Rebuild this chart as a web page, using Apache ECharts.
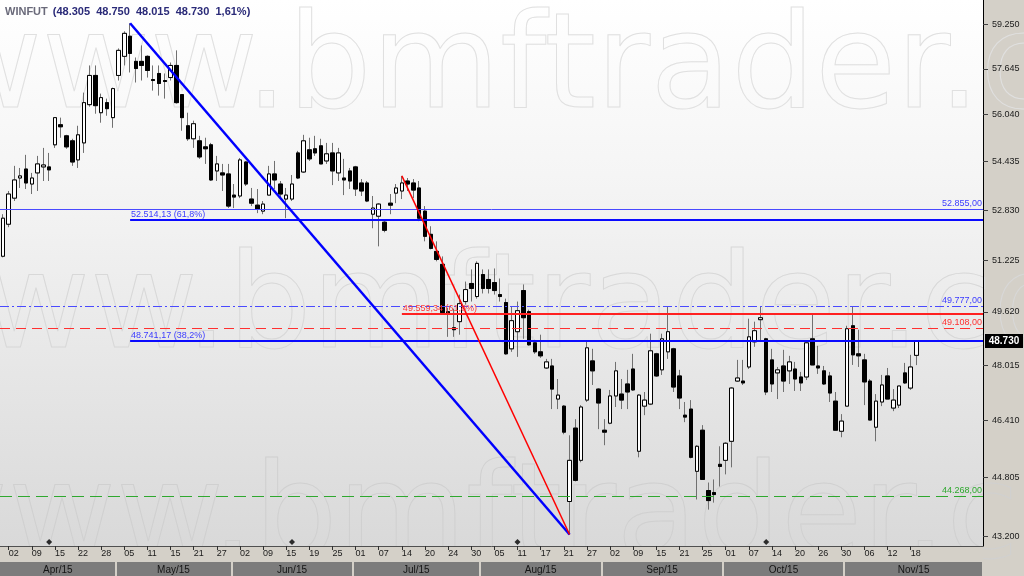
<!DOCTYPE html>
<html><head><meta charset="utf-8">
<script src="https://cdn.jsdelivr.net/npm/echarts@6/dist/echarts.min.js"></script>
<style>html,body{margin:0;padding:0;background:#d4d0c8;}#c{width:1024px;height:576px;}</style>
</head><body><div id="c"></div>
<script>
// ---------------- DATA ----------------
const SYMBOL = 'WINFUT';
const CHANGE_PCT = '1,61%';
const DATES = [
'2015-04-01','2015-04-02','2015-04-06','2015-04-07','2015-04-08','2015-04-09','2015-04-10','2015-04-13','2015-04-14','2015-04-15','2015-04-16','2015-04-17','2015-04-20','2015-04-22','2015-04-23','2015-04-24','2015-04-27','2015-04-28','2015-04-29','2015-04-30',
'2015-05-04','2015-05-05','2015-05-06','2015-05-07','2015-05-08','2015-05-11','2015-05-12','2015-05-13','2015-05-14','2015-05-15','2015-05-18','2015-05-19','2015-05-20','2015-05-21','2015-05-22','2015-05-25','2015-05-26','2015-05-27','2015-05-28','2015-05-29',
'2015-06-01','2015-06-02','2015-06-03','2015-06-05','2015-06-08','2015-06-09','2015-06-10','2015-06-11','2015-06-12','2015-06-15','2015-06-16','2015-06-17','2015-06-18','2015-06-19','2015-06-22','2015-06-23','2015-06-24','2015-06-25','2015-06-26','2015-06-29','2015-06-30',
'2015-07-01','2015-07-02','2015-07-03','2015-07-06','2015-07-07','2015-07-08','2015-07-10','2015-07-13','2015-07-14','2015-07-15','2015-07-16','2015-07-17','2015-07-20','2015-07-21','2015-07-22','2015-07-23','2015-07-24','2015-07-27','2015-07-28','2015-07-29','2015-07-30','2015-07-31',
'2015-08-03','2015-08-04','2015-08-05','2015-08-06','2015-08-07','2015-08-10','2015-08-11','2015-08-12','2015-08-13','2015-08-14','2015-08-17','2015-08-18','2015-08-19','2015-08-20','2015-08-21','2015-08-24','2015-08-25','2015-08-26','2015-08-27','2015-08-28','2015-08-31',
'2015-09-01','2015-09-02','2015-09-03','2015-09-04','2015-09-08','2015-09-09','2015-09-10','2015-09-11','2015-09-14','2015-09-15','2015-09-16','2015-09-17','2015-09-18','2015-09-21','2015-09-22','2015-09-23','2015-09-24','2015-09-25','2015-09-28','2015-09-29','2015-09-30',
'2015-10-01','2015-10-02','2015-10-05','2015-10-06','2015-10-07','2015-10-08','2015-10-09','2015-10-13','2015-10-14','2015-10-15','2015-10-16','2015-10-19','2015-10-20','2015-10-21','2015-10-22','2015-10-23','2015-10-26','2015-10-27','2015-10-28','2015-10-29','2015-10-30',
'2015-11-03','2015-11-04','2015-11-05','2015-11-06','2015-11-09','2015-11-10','2015-11-11','2015-11-12','2015-11-13','2015-11-16','2015-11-17','2015-11-18','2015-11-19'];

const OPEN = [51350,52375,53225,53890,54190,53690,54060,54260,54260,55005,55690,55310,55140,54495,55070,56385,57410,56105,56455,55935,
57410,58090,58815,57910,57910,58090,57265,57480,57230,57335,57765,56735,55655,55210,55140,54935,55005,54125,54060,54025,
53325,53295,54425,53195,52995,52800,53325,54025,53690,53195,53195,54730,54090,54835,54870,54970,54460,54730,54060,53890,54125,
54260,53725,53725,52700,52635,52440,53060,53390,53460,53790,53725,53560,52800,52050,51505,51095,49625,49135,49320,49935,50495,50090,
50775,50620,50525,50150,49905,48500,49015,50275,49625,48680,48410,47930,47990,47020,46815,44140,46185,45275,46990,48140,47310,
46125,46325,47110,47165,47460,47900,45530,46815,46875,48350,47875,48410,48500,47695,46555,46730,44970,46125,44440,44385,45165,
45275,45810,47545,47545,47960,48710,49380,48800,48170,47785,47990,47845,47900,47665,47665,48800,47990,47845,47695,46960,46095,
46815,49195,48350,48170,47545,46210,46935,47695,46760,46845,47785,47340,48305];
const CLOSE = [52570,53360,53825,53960,53725,53890,54360,54325,54160,55935,55620,54935,54425,55345,56455,57410,56350,56630,56245,56945,
58305,58920,58195,57655,57765,57585,57230,57125,57195,57765,56455,55935,55210,55725,54595,54870,53825,54360,53990,52965,
53260,54495,53690,53060,52865,53030,54025,53825,53360,53325,53690,53890,55140,54530,54730,54360,54700,54125,54730,53825,53790,
53525,53460,53130,52900,53030,52180,52995,53560,53725,53690,53490,52570,51985,51600,51250,49595,49565,49075,49870,50305,50340,51125,
50340,50340,50275,50090,48350,49350,49655,49440,48620,48410,48290,48110,47310,47135,46070,45275,44720,46790,48530,47845,46905,
46070,47110,47845,46990,47225,47285,47135,46990,48440,47695,48800,49015,47370,47050,46500,45360,45670,44745,44165,44330,45105,
45755,47340,47635,47490,48860,49045,49440,47225,47460,47875,47545,48110,47605,47490,48680,48020,47930,47460,47195,46125,46385,
49105,48320,48290,47520,46415,46960,47430,47020,46990,47400,47490,47960,48730];
const LOW = [51315,52280,53130,53560,53525,53360,53460,53790,53790,54900,55245,54870,54295,54225,54730,56315,56070,55760,56000,55585,
57230,57765,57515,57160,57230,57335,56875,56700,56595,57230,56420,55485,55140,54900,54530,54360,53790,53790,53460,52900,
52900,53225,53625,52965,52735,52700,53325,53525,53225,52570,53130,53855,54060,54460,54630,54360,54360,53655,53790,53325,53525,
53295,53295,53095,52245,51665,52115,52700,53060,53195,53460,53225,52475,51825,51570,51190,49565,48860,48860,48925,49840,49935,50025,
50185,50185,50150,49935,48320,48410,48260,48800,48590,48350,48230,47900,46730,46730,46010,43250,44690,45220,46935,47430,46155,
45700,46295,46790,46730,46730,47255,45360,46555,46845,47665,47725,48200,47225,46730,46355,45330,44195,44745,43920,44110,44550,
44885,45080,47520,47430,47900,48560,48710,47135,47225,47020,47225,47460,47255,47255,47575,48020,47755,47430,46935,46125,45925,
46815,48020,47960,46845,46415,45810,46815,47020,46670,46760,47460,47285,48015];
const HIGH = [52700,53460,54295,54225,54665,54060,54630,54900,54730,55935,55935,55345,55210,55655,56805,57765,57765,56770,56595,56980,
58375,58995,59290,58050,58485,58125,57765,57765,57480,57870,58305,56735,56105,55830,55310,55245,55070,54630,54360,54360,
53690,54560,54460,53560,53525,53130,54295,54460,53790,53560,53990,54800,55345,55245,55310,55210,55070,55070,54900,54530,54225,
54295,53855,53790,53295,53060,52475,53360,53690,53960,53890,53855,53790,52965,52310,51825,51345,49745,49715,50150,50555,50935,51190,
50935,50935,50965,50650,50025,49780,49935,50465,49685,48770,48925,48200,48200,47605,46845,45980,46440,46845,48710,48500,47340,
46440,47285,48110,47605,47875,48350,47165,47225,48955,48380,48955,49780,48530,47875,46935,46990,45700,46270,44660,44745,45670,
45785,47370,48170,48170,49410,49320,49780,48830,48500,47960,48470,48290,48110,47815,48710,49565,48590,47990,47815,47225,46585,
49195,49780,49075,48350,47605,47165,47725,47930,47310,47400,48080,48320,48750];

// price axis ticks (right side)
const Y_TICKS = [43200, 44805, 46410, 48015, 49620, 51225, 52830, 54435, 56040, 57645, 59250];
const Y_TICK_LABELS = ['43.200','44.805','46.410','48.015','49.620','51.225','52.830','54.435','56.040','57.645','59.250'];
const MONTH_NAMES = ['Jan','Feb','Mar','Apr','May','Jun','Jul','Aug','Sep','Oct','Nov','Dec'];

// drawn studies
const H_LEVELS = [52855, 49777, 49108, 44268];
const H_LEVEL_TEXT = ['52.855,00', '49.777,00', '49.108,00', '44.268,00'];
const FIB_LEVELS = [52514.13, 48741.17];
const FIB_TEXT = ['52.514,13 (61,8%)', '48.741,17 (38,2%)'];
const RED_FIB_LEVEL = 49559.34;
const RED_FIB_TEXT = '49.559,34 (61,8%)';
const TREND_FROM = 22, TREND_TO = 98, RED_FROM = 69;
const EXPIRY_IDX = [8, 50, 89, 132];
const EXPIRY_MARK_LEVEL = 43050;
const WATERMARK = 'www.bmftrader.com';

// ---------------- CHART ----------------
const N_SLOTS = 170;
const PLOT_W = 983, PLOT_H = 546;
const FONT = '"Liberation Sans", Arial, sans-serif';
const NARROW = '"Liberation Sans Narrow", "Liberation Sans", Arial, sans-serif';
const WM_FONT = '132px "DejaVu Sans", Verdana, sans-serif';
const fmt = v => String(Math.round(v)).replace(/\B(?=(\d{3})+(?!\d))/g, '.');
const last = DATES.length - 1;
const candles = DATES.map((d, i) => [OPEN[i], CLOSE[i], LOW[i], HIGH[i]]);
const bodies = DATES.map((d, i) => [OPEN[i], CLOSE[i], Math.min(OPEN[i], CLOSE[i]), Math.max(OPEN[i], CLOSE[i])]);
const slots = DATES.concat(Array.from({length: N_SLOTS - DATES.length}, (_, k) => 'pad' + k));
const showDay = idx => idx < DATES.length && idx % 4 === 1;

const monthStarts = [], monthLabels = [];
DATES.forEach((d, i) => {
  if (i === 0 || d.slice(0, 7) !== DATES[i - 1].slice(0, 7)) {
    monthStarts.push(i);
    monthLabels.push(MONTH_NAMES[+d.slice(5, 7) - 1] + '/' + d.slice(2, 4));
  }
});
const monthEnds = monthStarts.slice(1).concat([N_SLOTS]);
const monthMids = monthStarts.map((s, k) => (s + monthEnds[k]) / 2);

const mlLabel = (txt, pos, color) => ({show: true, position: pos, formatter: txt, color: color,
  fontSize: 9, fontFamily: FONT, distance: 1});
const overlay = (name, color, items) => ({type: 'line', name: name, data: [], color: color, silent: true, z: 4,
  markLine: {silent: true, symbol: ['none', 'none'], animation: false, lineStyle: {color: color}, data: items}});

const hStyles = [
  {color: '#4a4aff', type: 'solid', text: '#3c3cff'},
  {color: '#4a4aff', type: [9, 3, 2, 3], text: '#3c3cff'},
  {color: '#ff3030', type: [10, 6], text: '#ff3030'},
  {color: '#2fa82f', type: [12, 6], text: '#2ea82e'}
];

function buildOverlays(py) {
  const hLine = (v, fromIdx, width) => {
    const y = py ? py(v, width) : null;
    return y == null
      ? [{coord: [fromIdx, v]}, {coord: [N_SLOTS - 1, v], x: PLOT_W}]
      : [{coord: [fromIdx, v], y: y}, {coord: [N_SLOTS - 1, v], x: PLOT_W, y: y}];
  };
  const out = [];
  H_LEVELS.forEach((v, k) => {
    const seg = hLine(v, 0, 1);
    Object.assign(seg[0], {x: 0, lineStyle: {color: hStyles[k].color, width: 1, type: hStyles[k].type},
      label: mlLabel(H_LEVEL_TEXT[k], 'insideEndTop', hStyles[k].text)});
    out.push(overlay('lvl' + k, hStyles[k].color, [seg]));
  });
  FIB_LEVELS.forEach((v, k) => {
    const seg = hLine(v, TREND_FROM, 2);
    Object.assign(seg[0], {lineStyle: {color: '#0a0aff', width: 2, type: 'solid'},
      label: mlLabel(FIB_TEXT[k], 'insideStartTop', '#3c3cff')});
    out.push(overlay('fib' + k, '#0a0aff', [seg]));
  });
  const rseg = hLine(RED_FIB_LEVEL, RED_FROM, 2);
  Object.assign(rseg[0], {lineStyle: {color: '#ff2020', width: 2, type: 'solid'},
    label: mlLabel(RED_FIB_TEXT, 'insideStartTop', '#ff3a3a')});
  out.push(overlay('redfib', '#ff2020', [rseg]));
  out.push(overlay('trend', '#0000ff', [[
    {coord: [TREND_FROM, HIGH[TREND_FROM]], lineStyle: {color: '#0000ff', width: 2.5, type: 'solid'}, label: {show: false}},
    {coord: [TREND_TO, LOW[TREND_TO]]}]]));
  out.push(overlay('redtrend', '#ff0000', [[
    {coord: [RED_FROM, HIGH[RED_FROM]], lineStyle: {color: '#ff0000', width: 1.5, type: 'solid'}, label: {show: false}},
    {coord: [TREND_TO, LOW[TREND_TO]]}]]));
  return out;
}

const wm = (id, x, y, stroke) => ({id: id, type: 'text', z: -2, silent: true,
  style: {text: WATERMARK, x: x, y: y, font: WM_FONT, fill: 'transparent', stroke: stroke, lineWidth: 1}});
const staticGraphics = [
  {id: 'plotbg', type: 'rect', z: -3, silent: true, shape: {x: 0, y: 0, width: PLOT_W, height: PLOT_H},
    style: {fill: new echarts.graphic.LinearGradient(0, 0, 0, 1, [
      {offset: 0, color: '#ffffff'}, {offset: 0.35, color: '#f4f4f4'}, {offset: 1, color: '#d9d9d9'}])}},
  wm('wm1', -66, 7, '#e0e0e0'),
  wm('wm2', -126, 247, '#d8d8d8'),
  wm('wm3', -100, 457, '#d0d0d0'),
  {id: 'daterow', type: 'rect', z: -1, silent: true, shape: {x: 0, y: PLOT_H + 1, width: PLOT_W, height: 15}, style: {fill: '#d4d0c8'}},
  {id: 'strip', type: 'rect', z: -1, silent: true, shape: {x: 0, y: 562, width: 982, height: 14}, style: {fill: '#7c7c7c'}}
];

const baseSeries = [
  {type: 'candlestick', data: candles, barWidth: 4, z: 3,
    itemStyle: {color: '#ffffff', color0: '#000000', borderColor: '#707070', borderColor0: '#707070', borderWidth: 1}},
  {type: 'candlestick', data: bodies, barWidth: 4, silent: true, z: 3,
    itemStyle: {color: '#ffffff', color0: '#000000', borderColor: '#000000', borderColor0: '#000000', borderWidth: 1}},
  {type: 'scatter', data: EXPIRY_IDX.map(i => [i, EXPIRY_MARK_LEVEL]), symbol: 'diamond', symbolSize: 6,
    itemStyle: {color: '#000'}, silent: true}
];

const chart = echarts.init(document.getElementById('c'), null, {renderer: 'canvas'});
chart.setOption({
  animation: false,
  backgroundColor: '#d4d0c8',
  title: {
    left: 5, top: 3, padding: 0,
    text: '{a|' + SYMBOL + '} {b|(' + [OPEN[last], HIGH[last], LOW[last], CLOSE[last]].map(fmt).join('  ') + '  ' + CHANGE_PCT + ')}',
    textStyle: {rich: {
      a: {color: '#6a6a7a', fontWeight: 'bold', fontSize: 11, fontFamily: FONT},
      b: {color: '#2a2a78', fontWeight: 'bold', fontSize: 11, fontFamily: FONT}
    }}
  },
  grid: {left: 0, top: 0, width: PLOT_W, height: PLOT_H, show: false},
  graphic: staticGraphics,
  xAxis: [
    {type: 'category', data: slots, boundaryGap: true, position: 'bottom',
      axisLine: {show: true, onZero: false, lineStyle: {color: '#505050', width: 1}},
      axisTick: {show: true, alignWithLabel: true, interval: showDay, length: 4, lineStyle: {color: '#303030'}},
      axisLabel: {interval: showDay, formatter: v => v.slice(8, 10), align: 'left', margin: 3,
        fontSize: 9, color: '#1a1a1a', fontFamily: NARROW},
      splitLine: {show: false}},
    {type: 'value', min: 0, max: N_SLOTS, position: 'bottom', offset: 16,
      axisLine: {show: false, onZero: false},
      axisTick: {show: true, customValues: monthStarts.slice(1), length: 14, lineStyle: {color: '#d4d0c8', width: 2}},
      axisLabel: {customValues: monthMids, formatter: v => monthLabels[monthMids.indexOf(v)] || '',
        margin: 3, fontSize: 10, color: '#141414', fontFamily: NARROW},
      splitLine: {show: false}}
  ],
  yAxis: {type: 'log', logBase: 10, min: 42945, max: 60145, position: 'right',
    axisLine: {show: true, onZero: false, lineStyle: {color: '#000', width: 1}},
    axisTick: {show: true, customValues: Y_TICKS, length: 5, lineStyle: {color: '#404040'}},
    axisLabel: {customValues: Y_TICKS, formatter: v => {
        let best = 0; Y_TICKS.forEach((t, k) => { if (Math.abs(t - v) < Math.abs(Y_TICKS[best] - v)) best = k; });
        return Y_TICK_LABELS[best]; },
      margin: 9, fontSize: 9, color: '#1a1a1a', fontFamily: FONT},
    splitLine: {show: false}},
  series: baseSeries.concat(buildOverlays(null))
});

// second pass: snap horizontal study lines to whole device pixels (positions come from the axis scale)
const snap = (v, width) => {
  const y = chart.convertToPixel({yAxisIndex: 0}, v);
  return width % 2 === 1 ? Math.floor(y) + 0.5 : Math.round(y);
};
const lastY = chart.convertToPixel({yAxisIndex: 0}, CLOSE[last]);
chart.setOption({
  series: baseSeries.concat(buildOverlays(snap)),
  graphic: staticGraphics.concat([
    {id: 'lastBox', type: 'rect', z: 10, shape: {x: 985, y: Math.round(lastY) - 7, width: 38, height: 14}, style: {fill: '#000'}},
    {id: 'lastTxt', type: 'text', z: 11, style: {text: fmt(CLOSE[last]), x: 1004, y: Math.round(lastY) + 0.5,
      align: 'center', verticalAlign: 'middle', fill: '#fff', font: 'bold 10px ' + FONT}}
  ])
});
</script></body></html>
